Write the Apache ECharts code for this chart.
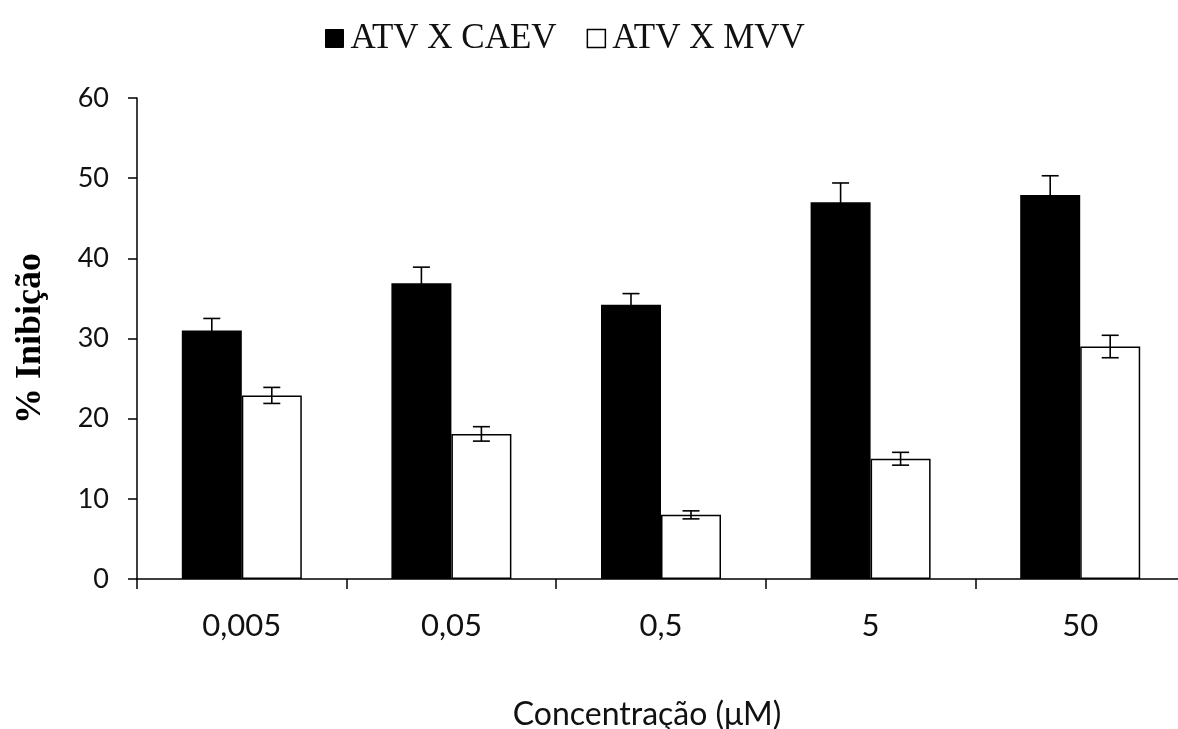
<!DOCTYPE html>
<html>
<head>
<meta charset="utf-8">
<title>% Inibição</title>
<script src="https://cdn.jsdelivr.net/npm/echarts@6/dist/echarts.min.js"></script>
<style>
  html, body { margin: 0; padding: 0; background: #fff; }
  #chart { width: 1178px; height: 729px; }
</style>
</head>
<body>
<div id="chart"></div>
<script>
// valores
const categories = ['0,005', '0,05', '0,5', '5', '50'];
const caev = [31.0, 36.9, 34.2, 47.0, 47.9];
const caevErr = [1.5, 2.0, 1.4, 2.4, 2.4];
const mvv = [22.9, 18.1, 8.0, 15.0, 29.0];
const mvvErr = [1.0, 0.9, 0.5, 0.8, 1.4];

const BAR_W = 60;

// barras de erro desenhadas em cima de cada barra
function errorSeries(values, errs, offset) {
  return {
    type: 'custom',
    silent: true,
    z: 10,
    data: values.map((v, i) => [i, v - errs[i], v + errs[i]]),
    renderItem: (params, api) => {
      const lo = api.coord([api.value(0), api.value(1)]);
      const hi = api.coord([api.value(0), api.value(2)]);
      const x = lo[0] + offset;
      const cap = 8.5;
      const style = { stroke: '#000', lineWidth: 1.6 };
      return {
        type: 'group',
        children: [
          { type: 'line', shape: { x1: x, y1: lo[1], x2: x, y2: hi[1] }, style },
          { type: 'line', shape: { x1: x - cap, y1: hi[1], x2: x + cap, y2: hi[1] }, style },
          { type: 'line', shape: { x1: x - cap, y1: lo[1], x2: x + cap, y2: lo[1] }, style }
        ]
      };
    }
  };
}

const chart = echarts.init(document.getElementById('chart'));
const option = {
  animation: false,
  backgroundColor: '#fff',
  legend: {
    top: 16,
    left: 320,
    itemWidth: 18,
    itemHeight: 18,
    itemGap: 30,
    icon: 'rect',
    data: [
      { name: 'ATV X CAEV', itemStyle: { color: '#000', borderColor: '#000', borderWidth: 1 } },
      { name: 'ATV X MVV', itemStyle: { color: '#fff', borderColor: '#000', borderWidth: 1.5 } }
    ],
    textStyle: {
      fontFamily: 'Liberation Serif',
      fontSize: 35,
      color: '#111',
      padding: [0, 0, 0, 2]
    }
  },
  grid: { left: 137, right: -7, top: 98, bottom: 150, outerBoundsMode: 'none', containLabel: false },
  xAxis: {
    type: 'category',
    data: categories,
    name: 'Concentração (μM)',
    nameLocation: 'middle',
    nameGap: 120,
    nameTextStyle: {
      fontFamily: 'Lato',
      fontSize: 32,
      color: '#111',
      padding: [0, 28, 0, 0]
    },
    axisLine: { lineStyle: { color: '#000', width: 1.5 } },
    axisTick: { show: true, length: 10, lineStyle: { color: '#000', width: 1.5 } },
    axisLabel: {
      fontFamily: 'Lato',
      fontSize: 31,
      color: '#111',
      margin: 31
    }
  },
  yAxis: {
    type: 'value',
    min: 0,
    max: 60,
    interval: 10,
    name: '% Inibição',
    nameLocation: 'middle',
    nameGap: 88,
    nameTextStyle: {
      fontFamily: 'Liberation Serif',
      fontWeight: 'bold',
      fontSize: 36,
      color: '#000'
    },
    splitLine: { show: false },
    axisLine: { show: true, lineStyle: { color: '#000', width: 1.5 } },
    axisTick: { show: true, length: 9, lineStyle: { color: '#000', width: 1.5 } },
    axisLabel: {
      fontFamily: 'Lato',
      fontSize: 27,
      color: '#111',
      margin: 28
    }
  },
  series: [
    {
      name: 'ATV X CAEV',
      type: 'bar',
      data: caev,
      barWidth: BAR_W,
      barGap: '0%',
      itemStyle: { color: '#000', borderColor: '#000', borderWidth: 1.5 }
    },
    {
      name: 'ATV X MVV',
      type: 'bar',
      data: mvv,
      barWidth: BAR_W,
      barGap: '0%',
      itemStyle: { color: '#fff', borderColor: '#000', borderWidth: 1.5 }
    },
    errorSeries(caev, caevErr, -BAR_W / 2),
    errorSeries(mvv, mvvErr, BAR_W / 2)
  ]
};
chart.setOption(option);
</script>
</body>
</html>
